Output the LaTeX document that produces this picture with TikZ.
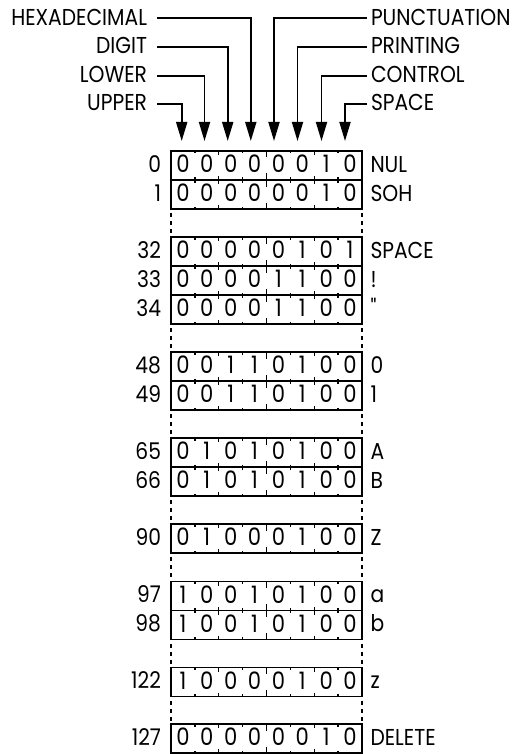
\documentclass[tikz,border=0pt]{standalone}
\usepackage{fontspec}
\setmainfont{Poppins}[FakeStretch=0.88]
\newfontfamily\qfont{Poppins}[FakeStretch=0.88,Ligatures=TeXOff]
\usetikzlibrary{arrows.meta}
\begin{document}
\begin{tikzpicture}[x=1pt,y=-1pt,
  toplab/.style={inner sep=0pt, outer sep=0pt, text height=13.5pt, text depth=0pt, font=\fontsize{23}{26}\selectfont},
  lab/.style={inner sep=0pt, outer sep=0pt, font=\fontsize{23}{26}\selectfont},
  bit/.style={inner sep=0pt, outer sep=0pt, font=\fontsize{24}{28}\selectfont},
  conn/.style={line width=1.8pt, -{Triangle[length=19pt,width=11pt]}},
  rowbox/.style={draw, line width=1.8pt, minimum width=191pt, minimum height=29pt, inner sep=0pt, outer sep=0pt},
  tickmark/.style={line width=1.3pt},
  gapline/.style={line width=1.8pt, dash pattern=on 4pt off 4pt, dash phase=4pt}]
\useasboundingbox (0,0) rectangle (529,754);

% top labels
\node[toplab, anchor=east] (hex) at (147,18.3) {HEXADECIMAL};
\node[toplab, anchor=east] (dig) at (147,46.7) {DIGIT};
\node[toplab, anchor=east] (low) at (147,75.7) {LOWER};
\node[toplab, anchor=east] (upp) at (147,104) {UPPER};
\node[toplab, anchor=west] (pun) at (371,18.3) {PUNCTUATION};
\node[toplab, anchor=west] (pri) at (371,46.7) {PRINTING};
\node[toplab, anchor=west] (con) at (371,75.7) {CONTROL};
\node[toplab, anchor=west] (spa) at (371,104) {SPACE};

\coordinate (a1) at (181.7,141);
\coordinate (a2) at (204.5,141);
\coordinate (a3) at (227.7,141);
\coordinate (a4) at (250.8,141);
\coordinate (a5) at (274,141);
\coordinate (a6) at (297.5,141);
\coordinate (a7) at (321.5,141);
\coordinate (a8) at (345,141);

\draw[conn] ([xshift=10pt]upp.east) -| (a1);
\draw[conn] ([xshift=10pt]low.east) -| (a2);
\draw[conn] ([xshift=10pt]dig.east) -| (a3);
\draw[conn] ([xshift=10pt]hex.east) -| (a4);
\draw[conn] ([xshift=-4pt]pun.west) -| (a5);
\draw[conn] ([xshift=-4pt]pri.west) -| (a6);
\draw[conn] ([xshift=-4pt]con.west) -| (a7);
\draw[conn] ([xshift=-4pt]spa.west) -| (a8);

% rows
\foreach \rn/\ry/\rb/\rl in {
 0/151/{0,0,0,0,0,0,1,0}/NUL,
 1/180/{0,0,0,0,0,0,1,0}/SOH,
 32/237/{0,0,0,0,0,1,0,1}/SPACE,
 33/266/{0,0,0,0,1,1,0,0}/!,
 34/295/{0,0,0,0,1,1,0,0}/{\qfont\symbol{34}},
 48/352/{0,0,1,1,0,1,0,0}/0,
 49/381/{0,0,1,1,0,1,0,0}/1,
 65/438/{0,1,0,1,0,1,0,0}/A,
 66/467/{0,1,0,1,0,1,0,0}/B,
 90/524/{0,1,0,0,0,1,0,0}/Z,
 97/581.5/{1,0,0,1,0,1,0,0}/a,
 98/610.5/{1,0,0,1,0,1,0,0}/b,
 122/667.5/{1,0,0,0,0,1,0,0}/z,
 127/724/{0,0,0,0,0,0,1,0}/DELETE} {
  \node[rowbox] (r\rn) at (266.5,\ry+14.5) {};
  \node[lab, anchor=base east] (n\rn) at (161,\ry+21.4) {\rn};
  \node[lab, anchor=base west] (l\rn) at (370.5,\ry+21.4) {\rl};
  \foreach \bv [count=\bi] in \rb {
    \node[bit, anchor=base] (r\rn b\bi) at (171+23.875*\bi-11.94,\ry+21.8) {\bv};
  }
  \foreach \bk/\tlen in {1/2.5,2/4,3/2.5,4/6.5,5/2.5,6/4,7/2.5} {
    \draw[tickmark] (171+23.875*\bk,\ry) -- ++(0,\tlen);
    \draw[tickmark] (171+23.875*\bk,\ry+29) -- ++(0,-\tlen);
  }
}

% gaps
\foreach \ga/\gb in {1/32,34/48,49/65,66/90,90/97,98/122,122/127} {
  \draw[gapline] (r\ga.south west) -- (r\gb.north west);
  \draw[gapline] (r\ga.south east) -- (r\gb.north east);
}
\end{tikzpicture}
\end{document}
